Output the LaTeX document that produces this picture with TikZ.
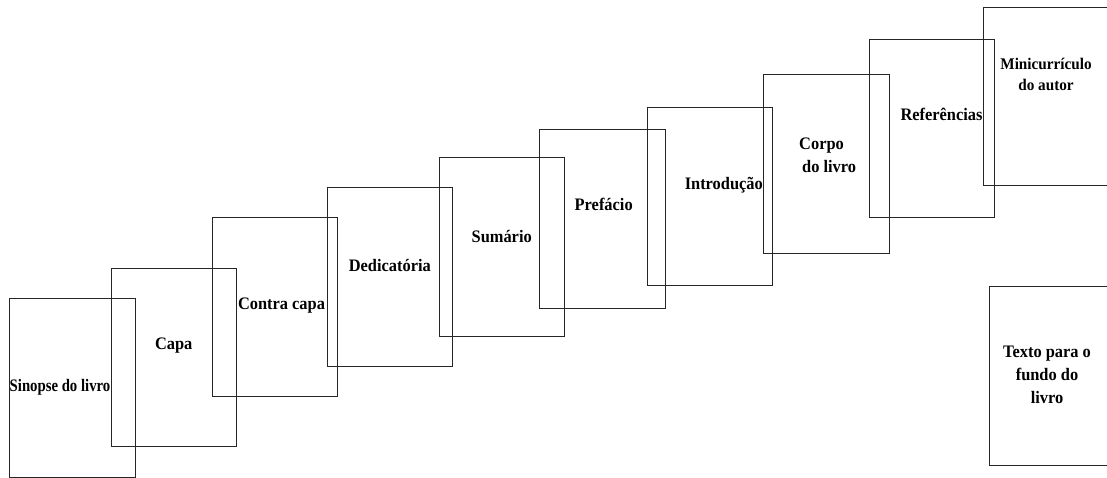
\documentclass[tikz,border=0pt]{standalone}
\usepackage{fontspec}
\setmainfont{Liberation Serif}
\newcommand{\tallbox}[1]{\scalebox{1}[1.07]{#1}}
\newcommand{\tallstack}[2]{\scalebox{1}[1.07]{\begin{tabular}{@{}#1@{}}#2\end{tabular}}}
\begin{document}
\begin{tikzpicture}[x=1pt,y=-1pt,
  pagebox/.style={draw=black!85, line width=1pt, rectangle, anchor=north west,
    minimum width=125.7pt, minimum height=178.7pt, inner sep=0pt, outer sep=0pt},
  lbl/.style={inner sep=0pt, font=\fontsize{16.4}{21.6}\selectfont\bfseries, text=black}]
\useasboundingbox (0,0) rectangle (1107,477);
\clip (0,0) rectangle (1107,477);
\node[pagebox] (sinopse) at (9.5,298.7) {};
\node[pagebox] (capa) at (111,268) {};
\node[pagebox] (contra) at (212,217.3) {};
\node[pagebox] (dedic) at (327,187.3) {};
\node[pagebox] (sumario) at (439,157.7) {};
\node[pagebox] (prefacio) at (539.7,129.3) {};
\node[pagebox] (intro) at (647.2,107) {};
\node[pagebox] (corpo) at (763.3,74.7) {};
\node[pagebox] (ref) at (869,39.2) {};
\node[pagebox] (mini) at (983.3,7) {};
\node[pagebox] (texto) at (989,286.5) {};
\node[lbl] (tsinopse) at (60,387.7) {\scalebox{0.9}[1.07]{Sinopse do livro}};
\node[lbl] (tcapa) at (173.7,346) {\tallbox{Capa}};
\node[lbl] (tcontra) at (281.5,305.7) {\tallbox{Contra capa}};
\node[lbl] (tdedic) at (389.8,265.3) {\tallbox{Dedicatória}};
\node[lbl] (tsumario) at (501.7,236.7) {\tallbox{Sumário}};
\node[lbl] (tprefacio) at (603.7,204.3) {\tallbox{Prefácio}};
\node[lbl] (tintro) at (723.8,185) {\tallbox{Introdução}};
\node[lbl, anchor=north west] (tcorpo) at (799,133) {\tallstack{l}{Corpo\\\hspace{3pt}do livro}};
\node[lbl] (tref) at (941.5,114.3) {\tallbox{Referências}};
\node[lbl, font=\fontsize{15.2}{20}\selectfont\bfseries] (tmini) at (1046,75.5) {\tallstack{c}{Minicurrículo\\do autor}};
\node[lbl] (ttexto) at (1047,375.5) {\tallstack{c}{Texto para o\\fundo do\\livro}};
\end{tikzpicture}
\end{document}
